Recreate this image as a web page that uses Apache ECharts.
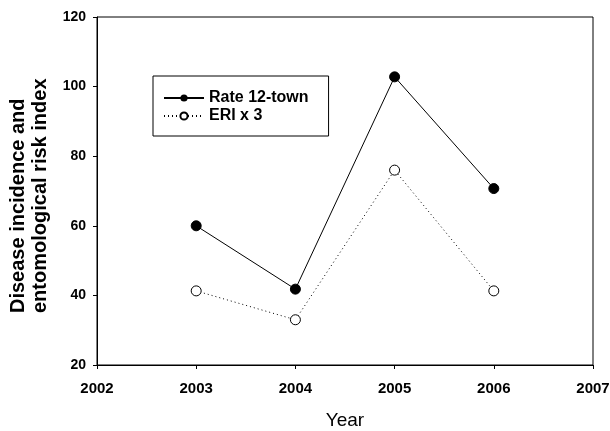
<!DOCTYPE html>
<html><head><meta charset="utf-8">
<script src="https://cdn.jsdelivr.net/npm/echarts@6/dist/echarts.min.js"></script>
<style>html,body{margin:0;padding:0;background:#fff}#c{width:610px;height:431px}</style>
</head><body><div id="c"></div>
<script>
const years = [2003, 2004, 2005, 2006];
const rate12town = [60, 41.8, 102.8, 70.7];
const eriX3 = [41.3, 33, 76, 41.3];
const seriesNames = ['Rate 12-town', 'ERI x 3'];
const yTitleLines = ['Disease incidence and', 'entomological risk index'];
const xTitle = 'Year';

const chart = echarts.init(document.getElementById('c'));
const F = 'Arial, "Liberation Sans", sans-serif';
chart.setOption({
  animation: false,
  backgroundColor: '#fff',
  grid: {left: 97, right: 17, top: 17, bottom: 66, show: true, borderColor: '#000', borderWidth: 1,
         containLabel: false, outerBoundsMode: 'none'},
  legend: {
    orient: 'vertical', left: 153, top: 76,
    padding: [14, 20, 12, 10],
    borderColor: '#000', borderWidth: 1,
    itemWidth: 40, itemHeight: 9, itemGap: 2,
    textStyle: {fontFamily: F, fontWeight: 'bold', fontSize: 16, lineHeight: 16, color: '#000'},
    data: seriesNames
  },
  graphic: [
    {type: 'text', x: 18, y: 313, rotation: Math.PI / 2,
     style: {text: yTitleLines[0], font: 'bold 20px ' + F, fill: '#000', align: 'left', verticalAlign: 'middle'}},
    {type: 'text', x: 40, y: 313, rotation: Math.PI / 2,
     style: {text: yTitleLines[1], font: 'bold 20px ' + F, fill: '#000', align: 'left', verticalAlign: 'middle'}}
  ],
  xAxis: {
    type: 'value', min: 2002, max: 2007, interval: 1,
    name: xTitle, nameLocation: 'middle', nameGap: 46,
    nameTextStyle: {fontFamily: F, fontSize: 19, color: '#000'},
    axisLine: {lineStyle: {color: '#000'}},
    axisTick: {show: true, length: 4, lineStyle: {color: '#000'}},
    axisLabel: {fontFamily: F, fontWeight: 'bold', fontSize: 15, color: '#000', margin: 16, formatter: v => String(v)},
    splitLine: {show: false}
  },
  yAxis: {
    type: 'value', min: 20, max: 120, interval: 20,
    axisLine: {lineStyle: {color: '#000'}},
    axisTick: {show: true, length: 4, lineStyle: {color: '#000'}},
    axisLabel: {fontFamily: F, fontWeight: 'bold', fontSize: 14, color: '#000', margin: 11},
    splitLine: {show: false}
  },
  series: [
    {
      name: seriesNames[0], type: 'line',
      data: years.map((y, i) => [y, rate12town[i]]),
      symbol: 'circle', symbolSize: 10,
      itemStyle: {color: '#000', borderColor: '#000'},
      lineStyle: {color: '#000', width: 1, type: 'solid'}
    },
    {
      name: seriesNames[1], type: 'line',
      data: years.map((y, i) => [y, eriX3[i]]),
      symbol: 'circle', symbolSize: 10,
      itemStyle: {color: '#fff', borderColor: '#000', borderWidth: 1},
      lineStyle: {color: '#000', width: 1, type: [1, 3]}
    }
  ]
});
</script></body></html>
